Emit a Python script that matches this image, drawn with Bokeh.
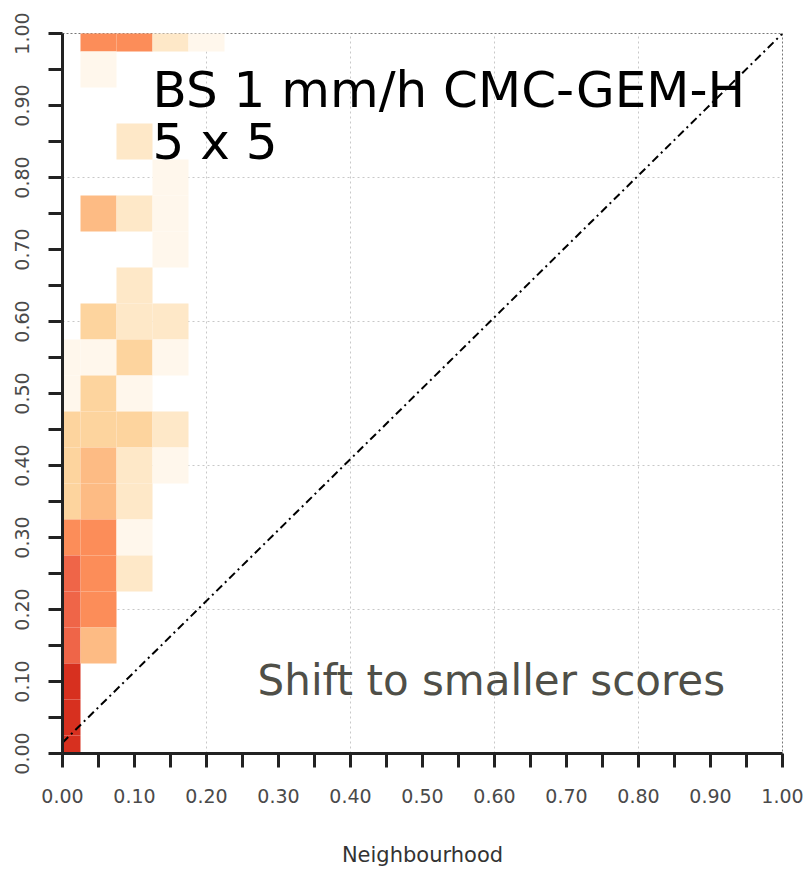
from bokeh.plotting import figure
from bokeh.models import (ColumnDataSource, Range1d, FixedTicker, Label,
                          LinearColorMapper)
from bokeh.palettes import OrRd9
from bokeh.embed import file_html
from bokeh.resources import INLINE

# ---- data: 2D histogram cells (x centre, y centre, intensity level 1..9) ----
cell_x = [0.05, 0.10, 0.15, 0.20,
          0.05,
          0.10,
          0.15,
          0.05, 0.10, 0.15,
          0.15,
          0.10,
          0.05, 0.10, 0.15,
          0.00, 0.05, 0.10, 0.15,
          0.00, 0.05, 0.10,
          0.00, 0.05, 0.10, 0.15,
          0.00, 0.05, 0.10, 0.15,
          0.00, 0.05, 0.10,
          0.00, 0.05, 0.10,
          0.00, 0.05, 0.10,
          0.00, 0.05,
          0.00, 0.05,
          0.00, 0.00, 0.00]
cell_y = [1.00, 1.00, 1.00, 1.00,
          0.95,
          0.85,
          0.80,
          0.75, 0.75, 0.75,
          0.70,
          0.65,
          0.60, 0.60, 0.60,
          0.55, 0.55, 0.55, 0.55,
          0.50, 0.50, 0.50,
          0.45, 0.45, 0.45, 0.45,
          0.40, 0.40, 0.40, 0.40,
          0.35, 0.35, 0.35,
          0.30, 0.30, 0.30,
          0.25, 0.25, 0.25,
          0.20, 0.20,
          0.15, 0.15,
          0.10, 0.05, 0.00]
cell_level = [5, 5, 2, 1,
              1,
              2,
              1,
              4, 2, 1,
              1,
              2,
              3, 2, 2,
              1, 1, 3, 1,
              1, 3, 1,
              3, 3, 3, 2,
              3, 4, 2, 1,
              3, 4, 2,
              5, 5, 1,
              6, 5, 2,
              6, 5,
              6, 4,
              7, 7, 7]

bin_size = 0.05

diag_x = [0.0, 1.0]
diag_y = [0.015, 1.0]

tick_values = [0.0, 0.1, 0.2, 0.3, 0.4, 0.5, 0.6, 0.7, 0.8, 0.9, 1.0]
tick_labels = ["0.00", "0.10", "0.20", "0.30", "0.40", "0.50",
               "0.60", "0.70", "0.80", "0.90", "1.00"]
minor_values = [0.05, 0.15, 0.25, 0.35, 0.45, 0.55, 0.65, 0.75, 0.85, 0.95]
grid_values = [0.2, 0.4, 0.6, 0.8]

title_line1 = "BS 1 mm/h CMC-GEM-H"
title_line2 = "5 x 5"
note_text = "Shift to smaller scores"
x_label = "Neighbourhood"

# ---- figure ----
p = figure(width=804, height=874, output_backend="svg", toolbar_location=None,
           x_range=Range1d(0, 1), y_range=Range1d(0, 1),
           min_border_left=62, min_border_right=22,
           min_border_top=33, min_border_bottom=121)
p.background_fill_color = "white"
p.border_fill_color = "white"
p.outline_line_color = "#777777"
p.outline_line_dash = "2 2"
p.outline_line_width = 1

src = ColumnDataSource(dict(x=cell_x, y=cell_y, level=cell_level))
mapper = LinearColorMapper(palette=list(reversed(OrRd9)), low=0.5, high=9.5)
p.rect(x="x", y="y", width=bin_size, height=bin_size, source=src,
       fill_color={"field": "level", "transform": mapper},
       line_color=None)

p.line(diag_x, diag_y, line_color="black", line_width=2, line_dash="8 4 2 4")

# grid
for g in (p.xgrid, p.ygrid):
    g.ticker = FixedTicker(ticks=grid_values)
    g.grid_line_color = "#c8c8c8"
    g.grid_line_dash = "2 3"
    g.grid_line_width = 1

# axes
overrides = {v: s for v, s in zip(tick_values, tick_labels)}
for ax in (p.xaxis[0], p.yaxis[0]):
    ax.ticker = FixedTicker(ticks=tick_values, minor_ticks=minor_values)
    ax.major_label_overrides = overrides
    ax.axis_line_color = "#222222"
    ax.axis_line_width = 3
    ax.major_tick_line_color = "#222222"
    ax.major_tick_line_width = 3
    ax.major_tick_out = 14
    ax.major_tick_in = 0
    ax.minor_tick_line_color = "#222222"
    ax.minor_tick_line_width = 3
    ax.minor_tick_out = 14
    ax.minor_tick_in = 0
    ax.major_label_text_font = "DejaVu Sans"
    ax.major_label_text_font_size = "19px"
    ax.major_label_text_color = "#4a4a4a"

p.xaxis.major_label_standoff = 21
p.yaxis.major_label_standoff = 20
p.yaxis.major_label_orientation = "vertical"

p.xaxis.axis_label = x_label
p.xaxis.axis_label_text_font = "DejaVu Sans"
p.xaxis.axis_label_text_font_size = "21px"
p.xaxis.axis_label_text_font_style = "normal"
p.xaxis.axis_label_text_color = "#333333"
p.xaxis.axis_label_standoff = 37

# text annotations
p.add_layout(Label(x=0.125, y=0.921, text=title_line1, text_font="DejaVu Sans",
                   text_font_size="50px", text_color="black",
                   text_baseline="alphabetic"))
p.add_layout(Label(x=0.125, y=0.849, text=title_line2, text_font="DejaVu Sans",
                   text_font_size="50px", text_color="black",
                   text_baseline="alphabetic"))
p.add_layout(Label(x=0.271, y=0.101, text=note_text, text_font="DejaVu Sans",
                   text_font_size="42px", text_color="#4f4f48",
                   text_baseline="alphabetic"))

open("out.html", "w").write(file_html(p, INLINE))
